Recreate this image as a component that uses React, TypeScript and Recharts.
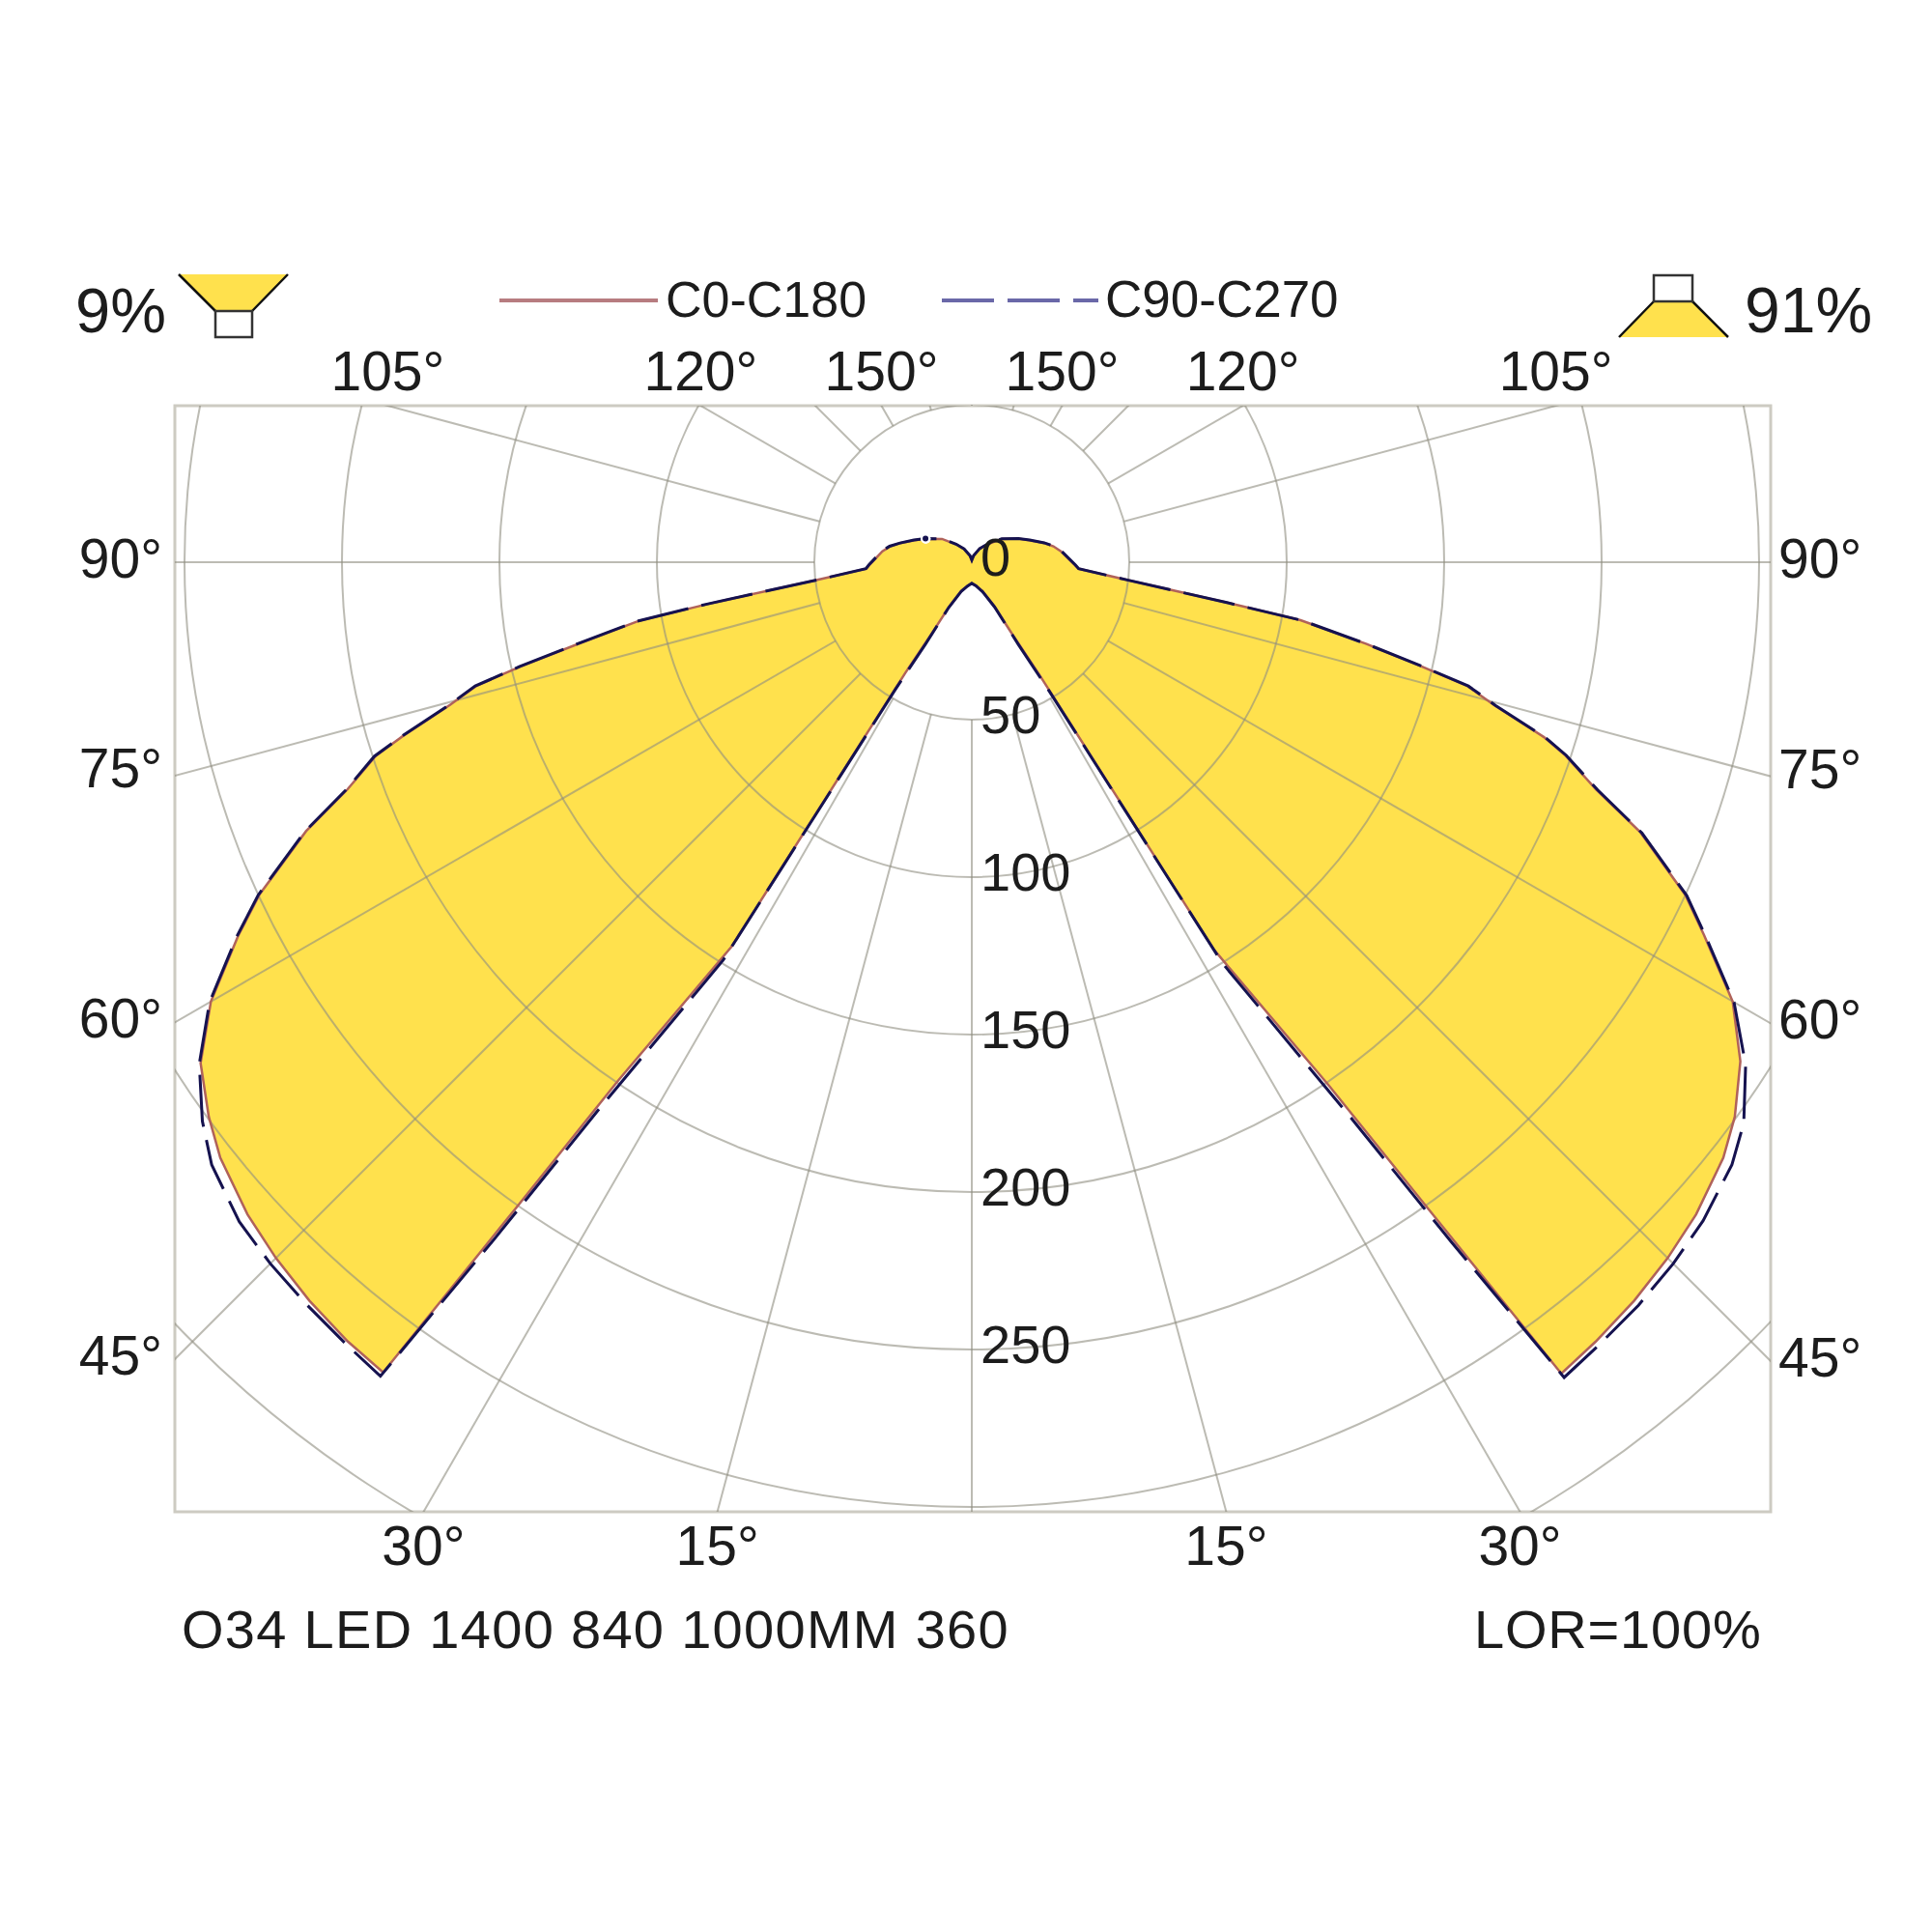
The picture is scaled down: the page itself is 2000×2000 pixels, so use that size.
import { PolarAngleAxis, PolarGrid, PolarRadiusAxis, Radar, RadarChart } from "recharts";

// gamma angle in degrees, measured from straight down
const gamma = [
  0, 10, 20, 27, 29.5, 31, 32, 34.3, 35.2, 36, 38.7, 41.9, 45, 48, 51.6, 54, 57, 60, 63, 65, 68, 70,
  72, 73, 74.7, 76, 77, 78.3, 80, 81, 83.5, 86.5, 88.5, 97, 101, 105, 111, 117, 128, 139, 150, 165, 180,
];
const c0Right = [
  6.7, 7.5, 9.7, 15.5, 27.5, 42, 145, 201, 250, 318.5, 317, 315, 312.5, 309.5, 304.5, 299.5, 291, 279, 261, 250, 229, 211,
  198, 190, 172, 162, 146, 128, 106, 82, 49.5, 34, 32.7, 28.5, 26.4, 23.7, 19.5, 16.5, 12, 7.5, 5, 2, 0.6,
];
const c0Left = [
  6.7, 7.6, 9.6, 15.8, 27.3, 41, 144, 199, 250, 318, 317, 315, 312.5, 309.5, 304.5, 299.5, 292, 279, 261.5, 249.5, 228, 211,
  199, 189, 171.8, 162, 147, 127.4, 107.5, 85, 49, 33.5, 32.5, 28.6, 26.4, 23.5, 19.5, 16.4, 12, 7.5, 4.8, 2, 0.6,
];
const c90Right = [
  6.7, 7.6, 10, 16, 30, 48, 150, 213, 264, 320, 318.5, 317, 315, 312.5, 308, 303, 293, 279.5, 261.5, 250.5, 229.5, 211.5,
  198.5, 190.5, 172.5, 162.5, 146.5, 128, 106.5, 82, 49.7, 34, 32.9, 28.7, 26.6, 23.8, 19.7, 16.6, 12.1, 7.6, 5, 2.1, 0.7,
];
const c90Left = [
  6.7, 7.7, 9.9, 16.2, 29.8, 47, 149, 211, 263, 319.5, 318, 316.5, 315, 313, 308, 302, 292.5, 279.5, 262, 250, 228.5, 211.5,
  199.5, 189.5, 172.3, 162.5, 147.5, 128, 108, 85.5, 49.2, 33.7, 32.7, 28.8, 26.6, 23.6, 19.7, 16.5, 12.1, 7.6, 4.9, 2.1, 0.7,
];

const angleTicks = [0, 15, 30, 45, 60, 75, 90, 105, 120, 135, 150, 165, 180, 195, 210, 225, 240, 255, 270, 285, 300, 315, 330, 345];
const labelledAngles = [15, 30, 45, 60, 75, 90, 105, 120, 150];
const radiusTicks = [0, 50, 100, 150, 200, 250, 300, 350, 400];
const radiusLabels = [0, 50, 100, 150, 200, 250];

const rows = [
  ...gamma.map((g, i) => ({ angle: g, c0: c0Right[i], c90: c90Right[i] })),
  ...gamma
    .map((g, i) => ({ angle: 360 - g, c0: c0Left[i], c90: c90Left[i] }))
    .reverse()
    .slice(1, -1),
];

const CX = 1006;
const CY = 582;
const FRAME = { left: 181, right: 1833, top: 420, bottom: 1565 };
const FONT = "'Liberation Sans', Arial, sans-serif";
const INK = "#1c1c1c";
const YELLOW = "#FFE14D";
const GRID = "#8f8d80";

function AngleTick({ payload }: any) {
  const theta: number = payload.value;
  const g = theta <= 180 ? theta : 360 - theta;
  if (!labelledAngles.includes(g)) return null;
  const rad = (theta * Math.PI) / 180;
  const dx = Math.sin(rad);
  const dy = Math.cos(rad);
  // where the spoke meets the frame
  const tx = dx > 0 ? (FRAME.right - CX) / dx : dx < 0 ? (FRAME.left - CX) / dx : Infinity;
  const ty = dy > 0 ? (FRAME.bottom - CY) / dy : dy < 0 ? (FRAME.top - CY) / dy : Infinity;
  const t = Math.min(tx, ty);
  const px = CX + dx * t;
  const py = CY + dy * t;
  let x = px;
  let y = py;
  let anchor: "start" | "middle" | "end" = "middle";
  if (ty < tx) {
    y = dy > 0 ? FRAME.bottom + 55 : FRAME.top - 16;
  } else {
    x = dx > 0 ? FRAME.right + 8 : FRAME.left - 13;
    y = py + (g === 75 ? 12 : 16);
    anchor = dx > 0 ? "start" : "end";
  }
  return (
    <text x={x} y={y} textAnchor={anchor} fontFamily={FONT} fontSize={57} fill={INK}>
      {g}°
    </text>
  );
}

function RadiusTick({ y, payload }: any) {
  if (!radiusLabels.includes(payload.value)) return null;
  return (
    <text x={CX + 9} y={y + 14} fontFamily={FONT} fontSize={56} fill={INK}>
      {payload.value}
    </text>
  );
}

export default function App() {
  return (
    <div style={{ position: "absolute", left: 0, top: 0, width: 2000, height: 2000, background: "#fff" }}>
      <RadarChart width={2000} height={2000} data={rows} cx={CX} cy={CY} outerRadius={1304} startAngle={-90} endAngle={270}>
        <defs>
          <clipPath id="frameClip">
            <rect x={FRAME.left} y={FRAME.top} width={FRAME.right - FRAME.left} height={FRAME.bottom - FRAME.top} />
          </clipPath>
          {/* spokes stop at the 50 ring */}
          <clipPath id="spokeClip">
            <path
              clipRule="evenodd"
              d={`M${FRAME.left} ${FRAME.top}H${FRAME.right}V${FRAME.bottom}H${FRAME.left}Z
                  M${CX - 163} ${CY}a163 163 0 1 0 326 0a163 163 0 1 0 -326 0Z`}
            />
          </clipPath>
        </defs>
        <PolarAngleAxis
          dataKey="angle"
          type="number"
          domain={[0, 360]}
          ticks={angleTicks}
          tick={AngleTick}
          axisLine={false}
          tickLine={false}
          zIndex={900}
        />
        <PolarRadiusAxis
          angle={-90}
          domain={[0, 400]}
          ticks={radiusTicks}
          tickCount={9}
          tick={RadiusTick}
          axisLine={false}
          tickLine={false}
          zIndex={900}
        />
        <Radar dataKey="c0" fill={YELLOW} fillOpacity={1} stroke="none" dot={false} isAnimationActive={false} zIndex={100} />
        <PolarGrid
          gridType="circle"
          radialLines={false}
          stroke={GRID}
          strokeOpacity={0.6}
          strokeWidth={2}
          clipPath="url(#frameClip)"
          zIndex={200}
        />
        <PolarGrid
          gridType="circle"
          polarRadius={[]}
          stroke={GRID}
          strokeOpacity={0.6}
          strokeWidth={2}
          clipPath="url(#spokeClip)"
          zIndex={200}
        />
        <Radar dataKey="c0" fill="none" stroke="#b0625a" strokeWidth={2.5} dot={false} isAnimationActive={false} zIndex={300} />
        <Radar
          dataKey="c90"
          fill="none"
          stroke="#15124f"
          strokeWidth={3}
          strokeDasharray="54 14"
          dot={false}
          isAnimationActive={false}
          zIndex={400}
        />

        <rect
          x={FRAME.left}
          y={FRAME.top}
          width={FRAME.right - FRAME.left}
          height={FRAME.bottom - FRAME.top}
          fill="none"
          stroke="#cdcbc2"
          strokeWidth={3}
        />

        <polygon points="185,284 298,284 261,322 223,322" fill={YELLOW} />
        <path d="M185 284 L223 322 M298 284 L261 322" stroke="#111" strokeWidth={2.5} fill="none" />
        <rect x={223} y={322} width={38} height={27} fill="#fff" stroke="#333" strokeWidth={2.5} />
        <polygon points="1712,312 1752,312 1789,349 1676,349" fill={YELLOW} />
        <path d="M1712 312 L1676 349 M1752 312 L1789 349" stroke="#111" strokeWidth={2.5} fill="none" />
        <rect x={1712} y={285} width={40} height={27} fill="#fff" stroke="#333" strokeWidth={2.5} />

        <text x={78} y={344} fontFamily={FONT} fontSize={65} fill={INK}>9%</text>
        <text x={1806} y={344} fontFamily={FONT} fontSize={66} fill={INK}>91%</text>

        <line x1={517} x2={681} y1={311} y2={311} stroke="#b77c80" strokeWidth={4} />
        <text x={689} y={328} fontFamily={FONT} fontSize={52} fill={INK}>C0-C180</text>
        <line x1={975} x2={1137} y1={311} y2={311} stroke="#6a68a8" strokeWidth={4} strokeDasharray="54 14" />
        <text x={1144} y={328} fontFamily={FONT} fontSize={53} fill={INK}>C90-C270</text>

        <text x={188} y={1706} fontFamily={FONT} fontSize={56} letterSpacing={1.3} fill={INK}>O34 LED 1400 840 1000MM 360</text>
        <text x={1526} y={1706} fontFamily={FONT} fontSize={56} letterSpacing={0.8} fill={INK}>LOR=100%</text>
      </RadarChart>
    </div>
  );
}
